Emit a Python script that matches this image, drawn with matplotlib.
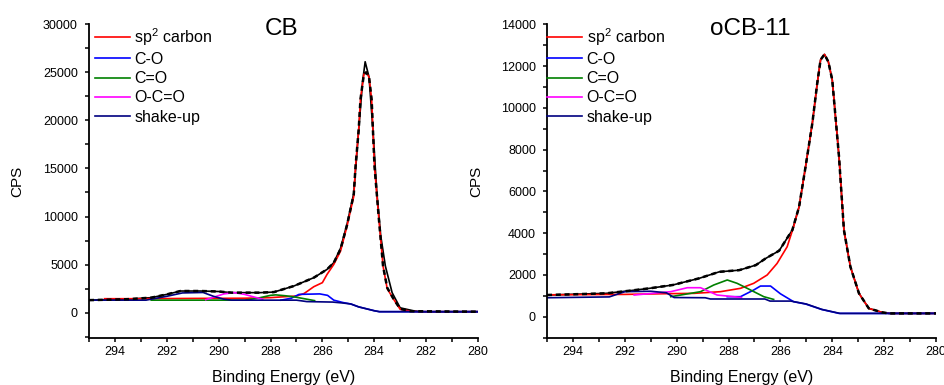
import numpy as np
import matplotlib
matplotlib.use("Agg")
from matplotlib import pyplot as plt
from matplotlib.ticker import MultipleLocator

plt.rcParams['font.family'] = ['Liberation Sans', 'DejaVu Sans']
plt.rcParams['mathtext.fontset'] = 'custom'
plt.rcParams['mathtext.rm'] = 'Liberation Sans'
plt.rcParams['mathtext.it'] = 'Liberation Sans:italic'

# ---------------- CB ----------------
cb_raw_e = [295, 293.5, 292.6, 292.0, 291.47, 290.7, 290.0, 289.5, 288.4, 287.87, 287.1, 286.33,
            285.82, 285.56, 285.3, 285.05, 284.79, 284.6, 284.45, 284.35, 284.2, 284.05, 283.9,
            283.75, 283.57, 283.31, 283.0, 282.5, 282.2, 280]
cb_raw_v = [1300, 1400, 1560, 1900, 2250, 2250, 2200, 2080, 2080, 2140, 2770, 3640,
            4500, 5200, 6700, 9200, 12400, 19000, 24000, 26100, 24500, 19000, 12500,
            8000, 4840, 2080, 500, 200, 100, 100]

cb_env_e = [295, 293.5, 292.6, 292.0, 291.47, 290.7, 290.0, 289.5, 288.4, 287.87, 287.1, 286.33,
            285.82, 285.56, 285.3, 285.05, 284.79, 284.72, 284.6, 284.53, 284.4, 284.31, 284.2,
            284.1, 283.99, 283.83, 283.66, 283.5, 283.25, 283.0, 282.6, 280]
cb_env_v = [1300, 1400, 1560, 1900, 2250, 2250, 2200, 2080, 2080, 2140, 2770, 3640,
            4500, 5200, 6600, 9100, 12300, 15240, 19000, 22200, 24800, 25000, 24500,
            22160, 15240, 10040, 4840, 2600, 1400, 400, 150, 100]

cb_sp2_e = [294.4, 293, 291, 289, 288, 287.5, 287.0, 286.7, 286.33, 286.0, 285.82, 285.56,
            285.3, 285.05, 284.79, 284.72, 284.6, 284.53, 284.4, 284.31, 284.2, 284.1,
            283.99, 283.83, 283.66, 283.5, 283.25, 283.0, 282.6, 282.3, 280]
cb_sp2_v = [1450, 1450, 1480, 1500, 1560, 1650, 1730, 2000, 2700, 3120, 3980, 5020,
            6400, 9000, 12100, 15240, 19000, 22200, 24800, 25000, 24500, 22160,
            15240, 10040, 4840, 2500, 1380, 350, 150, 100, 100]

cb_co_e = [287.6, 287.2, 286.9, 286.1, 285.8, 285.56, 285.2, 284.9, 284.6, 284.3, 284.0, 283.8, 280]
cb_co_v = [1300, 1500, 1900, 1950, 1800, 1300, 1050, 900, 600, 400, 200, 100, 100]

cb_cdo_e = [292.6, 289.0, 288.5, 288.0, 287.8, 287.4, 287.0, 286.6, 286.3]
cb_cdo_v = [1300, 1300, 1500, 1800, 1850, 1750, 1600, 1400, 1250]

cb_occ_e = [290.5, 290.2, 289.8, 289.4, 289.0, 288.6, 288.3]
cb_occ_v = [1350, 1600, 1950, 2080, 1900, 1600, 1400]

cb_shk_e = [295, 292.8, 292.0, 291.4, 290.6, 290.2, 289.8, 289.5, 287.0, 286.6, 285.6,
            285.2, 284.9, 284.6, 284.3, 284.0, 283.8, 280]
cb_shk_v = [1300, 1300, 1700, 2050, 2100, 1700, 1400, 1300, 1300, 1150, 1100,
            1000, 900, 600, 400, 200, 100, 100]

# ---------------- oCB-11 ----------------
ocb_raw_e = [295, 292.72, 291.82, 291.05, 290.15, 289.13, 288.36, 287.59, 286.95, 286.57,
             286.05, 285.54, 285.28, 285.03, 284.77, 284.58, 284.45, 284.30, 284.15, 284.0,
             283.74, 283.55, 283.3, 282.97, 282.59, 282.08, 281.8, 280]
ocb_raw_v = [1040, 1120, 1245, 1360, 1520, 1840, 2150, 2230, 2470, 2790,
             3160, 4150, 5260, 7180, 9250, 11170, 12300, 12560, 12200, 11330,
             7660, 4150, 2390, 1120, 400, 210, 160, 160]

ocb_sp2_e = [295, 292, 290.6, 289.33, 288.31, 287.54, 287.03, 286.51, 286.13, 285.74, 285.49,
             285.28, 285.03, 284.77, 284.58, 284.45, 284.30, 284.15, 284.0, 283.74, 283.55,
             283.3, 282.97, 282.59, 282.08, 281.8, 280]
ocb_sp2_v = [1050, 1070, 1100, 1120, 1200, 1360, 1600, 2000, 2550, 3350, 4310,
             5260, 7180, 9250, 11170, 12300, 12560, 12200, 11330, 7660, 4150,
             2390, 1120, 400, 210, 160, 160]

ocb_co_e = [288.05, 287.54, 287.03, 286.77, 286.38, 286.0, 285.49, 285.03, 284.41, 283.74, 280]
ocb_co_v = [960, 960, 1280, 1470, 1470, 1100, 720, 610, 350, 160, 160]

ocb_cdo_e = [290.23, 289.08, 288.57, 288.05, 287.67, 287.15, 286.64, 286.26]
ocb_cdo_v = [960, 1200, 1520, 1760, 1600, 1280, 960, 830]

ocb_occ_e = [291.64, 290.23, 289.59, 289.08, 288.44, 287.8, 287.5]
ocb_occ_v = [1040, 1200, 1390, 1390, 1040, 960, 920]

ocb_shk_e = [295, 292.6, 292.0, 291.0, 290.4, 290.1, 288.9, 288.7, 286.6, 286.4, 285.6,
             285.0, 284.4, 283.7, 280]
ocb_shk_v = [910, 950, 1200, 1220, 1150, 920, 910, 850, 850, 750, 750,
             610, 350, 160, 160]

labels = ['sp$^2$ carbon', 'C-O', 'C=O', 'O-C=O', 'shake-up']
colors = ['#ff0000', '#0000ff', '#008000', '#ff00ff', '#000080']

fig = plt.figure(figsize=(9.44, 3.85), dpi=100)
ax1 = fig.add_axes([0.0943, 0.123, 0.412, 0.814])
ax2 = fig.add_axes([0.5795, 0.123, 0.412, 0.814])

panels = [
    (ax1, 'CB', 0.496, cb_raw_e, cb_raw_v, cb_env_e, cb_env_v,
     [(cb_sp2_e, cb_sp2_v), (cb_co_e, cb_co_v), (cb_cdo_e, cb_cdo_v),
      (cb_occ_e, cb_occ_v), (cb_shk_e, cb_shk_v)],
     (-2600, 30000), 5000, 2500, 0.01),
    (ax2, 'oCB-11', 0.522, ocb_raw_e, ocb_raw_v, ocb_raw_e, ocb_raw_v,
     [(ocb_sp2_e, ocb_sp2_v), (ocb_co_e, ocb_co_v), (ocb_cdo_e, ocb_cdo_v),
      (ocb_occ_e, ocb_occ_v), (ocb_shk_e, ocb_shk_v)],
     (-1000, 14000), 2000, 1000, -0.005),
]

for ax, title, tx, re, rv, ee, ev, comps, ylim, ymaj, ymin, lgx in panels:
    ax.plot(re, rv, color='black', lw=1.2)
    handles = []
    for (e, v), c, lab in zip(comps, colors, labels):
        h, = ax.plot(e, v, color=c, lw=1.2, label=lab)
        handles.append(h)
    ax.plot(ee, ev, color='black', lw=1.8, dashes=(2, 1.5))

    ax.set_xlim(295, 280)
    ax.set_ylim(*ylim)
    ax.xaxis.set_major_locator(MultipleLocator(2))
    ax.xaxis.set_minor_locator(MultipleLocator(1))
    ax.yaxis.set_major_locator(MultipleLocator(ymaj))
    ax.yaxis.set_minor_locator(MultipleLocator(ymin))
    ax.spines['top'].set_visible(False)
    ax.spines['right'].set_visible(False)
    for s in ['left', 'bottom']:
        ax.spines[s].set_linewidth(1.3)
    ax.tick_params(which='both', direction='out', length=3, width=1.1, labelsize=9)
    ax.tick_params(axis='x', pad=3)
    ax.tick_params(axis='y', pad=5)
    ax.set_xlabel('Binding Energy (eV)', fontsize=11.5, labelpad=9)
    ax.set_ylabel('CPS', fontsize=11)
    ax.text(tx, 0.985, title, transform=ax.transAxes, ha='center', va='center', fontsize=17.5)
    ax.legend(handles=handles, loc='upper left', bbox_to_anchor=(lgx, 1.0), frameon=False,
              fontsize=11.5, handlelength=2.2, handletextpad=0.3, labelspacing=0.27,
              borderaxespad=0.0, borderpad=0.1)

ax1.yaxis.set_label_coords(-0.167, 0.5)
ax2.yaxis.set_label_coords(-0.165, 0.5)

plt.savefig('out.png', dpi=100)
